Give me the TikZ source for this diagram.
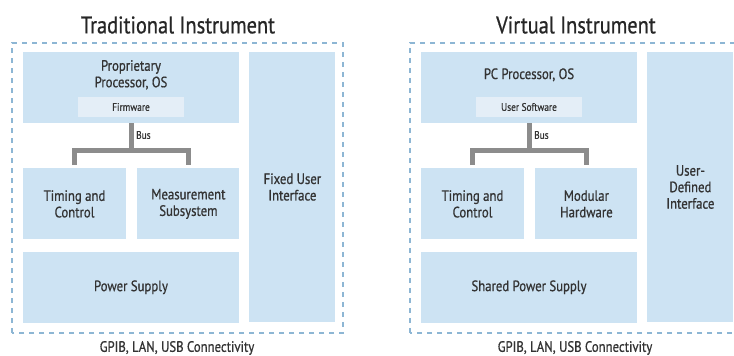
\documentclass[tikz,border=0pt]{standalone}
\usepackage{fontspec}
\setmainfont{PT Sans}[FakeStretch=0.85, FakeBold=0.7]
\usepackage{xcolor}
\usetikzlibrary{positioning}
\definecolor{cellblue}{HTML}{CDE3F3}
\definecolor{softblue}{HTML}{E4EEF7}
\definecolor{edgeblue}{HTML}{8DB6D4}
\definecolor{busgray}{HTML}{8C8C8C}
\definecolor{inkgray}{HTML}{333333}
\tikzset{
    cell/.style={rectangle, fill=cellblue, inner sep=0pt, align=center, text=inkgray, font=\fontsize{15}{16.5}\selectfont},
    subcell/.style={rectangle, fill=softblue, inner sep=0pt, minimum width=106pt, minimum height=20pt, text=inkgray, font=\fontsize{11}{13}\selectfont},
    lbl/.style={inner sep=0pt, align=center, text=inkgray, font=\fontsize{15}{16.5}\selectfont},
    small/.style={inner sep=0pt, text=inkgray, font=\fontsize{11}{13}\selectfont},
    heading/.style={inner sep=0pt, text=black!85, font=\fontsize{24}{28}\selectfont},
    frame/.style={draw=edgeblue, line width=1.3pt, dash pattern=on 5pt off 5pt},
    bus/.style={draw=busgray, line width=5pt}
}

\begin{document}
\begin{tikzpicture}[x=1pt, y=1pt]
            \useasboundingbox (0,0) rectangle (734,356);
            \clip (0,0) rectangle (734,356);

            % traditional instrument
            \node (ttlA) [heading] at (178,331) {Traditional Instrument};
            \draw[frame] (12,23) rectangle (343,313);
            \node (proc) [cell, minimum width=216pt, minimum height=71pt] at (131,268.5) {};
            \node (proctxt) [lbl] at ([yshift=-23pt]proc.north) {Proprietary\\Processor, OS};
            \node (fw) [subcell, below=45pt of proc.north] {Firmware};
            \node (tc) [cell, minimum width=103pt, minimum height=71pt, below right=45pt and 0pt of proc.south west] {Timing and\\Control};
            \node (ms) [cell, minimum width=102pt, minimum height=71pt, right=11pt of tc] {Measurement\\Subsystem};
            \node (ps) [cell, minimum width=216pt, minimum height=71pt, below=12pt of tc.south west, anchor=north west] {Power Supply};
            \node (fui) [cell, minimum width=86pt, minimum height=270pt, right=10pt of proc.north east, anchor=north west] {Fixed User\\Interface};
            \node (connA) [lbl] at (177,8) {GPIB, LAN, USB Connectivity};

            \draw[bus] (proc.south) -- ++(0,-27) coordinate (bjA);
            \draw[bus] ([yshift=3pt]tc.north) |- (bjA) -| ([yshift=3pt]ms.north);
            \node (busA) [small, anchor=west] at (136,221) {Bus};

            % virtual instrument
            \node (ttlB) [heading] at (576,331) {Virtual Instrument};
            \draw[frame] (410,23) rectangle (741,313);
            \node (pcproc) [cell, minimum width=216pt, minimum height=71pt] at (529,268.5) {};
            \node (pctxt) [lbl] at ([yshift=-23pt]pcproc.north) {PC Processor, OS};
            \node (usw) [subcell, below=45pt of pcproc.north] {User Software};
            \node (vtc) [cell, minimum width=103pt, minimum height=71pt, below right=45pt and 0pt of pcproc.south west] {Timing and\\Control};
            \node (mh) [cell, minimum width=102pt, minimum height=71pt, right=11pt of vtc] {Modular\\Hardware};
            \node (sps) [cell, minimum width=216pt, minimum height=71pt, below=12pt of vtc.south west, anchor=north west] {Shared Power Supply};
            \node (udi) [cell, minimum width=86pt, minimum height=270pt, right=10pt of pcproc.north east, anchor=north west] {User-\\Defined\\Interface};
            \node (connB) [lbl] at (575,8) {GPIB, LAN, USB Connectivity};

            \draw[bus] (pcproc.south) -- ++(0,-27) coordinate (bjB);
            \draw[bus] ([yshift=3pt]vtc.north) |- (bjB) -| ([yshift=3pt]mh.north);
            \node (busB) [small, anchor=west] at (534,221) {Bus};
        \end{tikzpicture}
\end{document}
